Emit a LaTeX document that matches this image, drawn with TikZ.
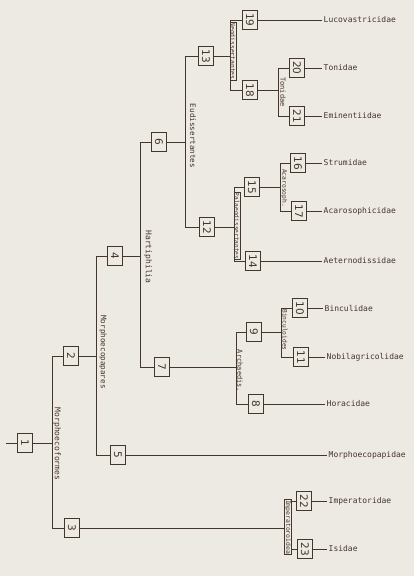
\documentclass[tikz,border=0pt]{standalone}
\usepackage{graphicx}
\usepackage{fontspec}
\setmainfont{DejaVu Sans}
\newfontfamily\monofont{DejaVu Sans Mono}
\definecolor{paper}{HTML}{EDE9E3}
\definecolor{ink}{HTML}{45362B}
\tikzset{
  num/.style={draw=ink, line width=0.8pt, fill=paper, minimum width=15pt, minimum height=19pt,
    inner sep=0pt, font=\fontsize{10.5}{10.5}\selectfont, text=ink},
  taxon/.style={anchor=west, inner sep=1.5pt, font=\monofont\fontsize{8}{8}\selectfont, text=ink},
  clade/.style={rotate=-90, inner sep=0.6pt, text=ink, font=\monofont\fontsize{#1}{#1}\selectfont},
  cladebox/.style={clade=#1, draw=ink, line width=0.4pt, fill=paper},
  edge/.style={draw=ink, line width=0.8pt},
}
\newcommand{\nb}[1]{\rotatebox{-90}{#1}}
\begin{document}
\begin{tikzpicture}[x=1pt, y=-1pt]
\useasboundingbox (0,0) rectangle (414,576);
\fill[paper] (0,0) rectangle (414,576);

% numbered nodes
\node[num] (n1)  at (25,443)  {\nb{1}};
\node[num] (n2)  at (71,356)  {\nb{2}};
\node[num] (n3)  at (72,528)  {\nb{3}};
\node[num] (n4)  at (115,256) {\nb{4}};
\node[num] (n5)  at (118,455) {\nb{5}};
\node[num] (n6)  at (159,142) {\nb{6}};
\node[num] (n7)  at (162,367) {\nb{7}};
\node[num] (n8)  at (256,404) {\nb{8}};
\node[num] (n9)  at (254,332) {\nb{9}};
\node[num] (n10) at (300,308) {\nb{10}};
\node[num] (n11) at (301,357) {\nb{11}};
\node[num] (n12) at (207,227) {\nb{12}};
\node[num] (n13) at (206,56)  {\nb{13}};
\node[num] (n14) at (253,261) {\nb{14}};
\node[num] (n15) at (252,187) {\nb{15}};
\node[num] (n16) at (298,163) {\nb{16}};
\node[num] (n17) at (299,211) {\nb{17}};
\node[num] (n18) at (250,90)  {\nb{18}};
\node[num] (n19) at (250,20)  {\nb{19}};
\node[num] (n20) at (297,68)  {\nb{20}};
\node[num] (n21) at (297,116) {\nb{21}};
\node[num] (n22) at (304,501) {\nb{22}};
\node[num] (n23) at (305,549) {\nb{23}};

% terminal taxa
\node[taxon] (t19) at (322,20)  {Lucovastricidae};
\node[taxon] (t20) at (322,68)  {Tonidae};
\node[taxon] (t21) at (322,116) {Eminentiidae};
\node[taxon] (t16) at (322,163) {Strumidae};
\node[taxon] (t17) at (322,211) {Acarosophicidae};
\node[taxon] (t14) at (322,261) {Aeternodissidae};
\node[taxon] (t10) at (323,308) {Binculidae};
\node[taxon] (t11) at (325,357) {Nobilagricolidae};
\node[taxon] (t8)  at (325,404) {Horacidae};
\node[taxon] (t5)  at (327,455) {Morphoecopapidae};
\node[taxon] (t22) at (327,501) {Imperatoridae};
\node[taxon] (t23) at (327,549) {Isidae};

% branch points
\coordinate (root) at (6,443);
\coordinate (v1a) at (52,356);  \coordinate (v1b) at (52,528);
\coordinate (v2a) at (96,256);  \coordinate (v2b) at (96,455);
\coordinate (v4a) at (140,142); \coordinate (v4b) at (140,367);
\coordinate (v6a) at (185,56);  \coordinate (v6b) at (185,227);
\coordinate (v13a) at (230,20); \coordinate (v13b) at (230,90);
\coordinate (v18a) at (278,68); \coordinate (v18b) at (278,116);
\coordinate (v12a) at (234,187);\coordinate (v12b) at (234,261);
\coordinate (v15a) at (280,163);\coordinate (v15b) at (280,211);
\coordinate (v7a) at (236,332); \coordinate (v7b) at (236,404);
\coordinate (v9a) at (281,308); \coordinate (v9b) at (281,357);
\coordinate (v3a) at (284,501); \coordinate (v3b) at (284,549);

\begin{scope}[edge]
  \draw (root) -- (n1.west);
  \draw (n1.east) -- (n1.east -| v1a);
  \draw (n2.west) -| (v1a) -- (v1b) -- (n3.west);
  \draw (n2.east) -- (n2.east -| v2a);
  \draw (n4.west) -| (v2a) -- (v2b) -- (n5.west);
  \draw (n4.east) -- (n4.east -| v4a);
  \draw (n6.west) -| (v4a) -- (v4b) -- (n7.west);
  \draw (n6.east) -- (n6.east -| v6a);
  \draw (n13.west) -| (v6a) -- (v6b) -- (n12.west);
  \draw (n13.east) -- (n13.east -| v13a);
  \draw (n19.west) -| (v13a) -- (v13b) -- (n18.west);
  \draw (n18.east) -- (n18.east -| v18a);
  \draw (n20.west) -| (v18a) -- (v18b) -- (n21.west);
  \draw (n12.east) -- (n12.east -| v12a);
  \draw (n15.west) -| (v12a) -- (v12b) -- (n14.west);
  \draw (n15.east) -- (n15.east -| v15a);
  \draw (n16.west) -| (v15a) -- (v15b) -- (n17.west);
  \draw (n7.east) -- (n7.east -| v7a);
  \draw (n9.west) -| (v7a) -- (v7b) -- (n8.west);
  \draw (n9.east) -- (n9.east -| v9a);
  \draw (n10.west) -| (v9a) -- (v9b) -- (n11.west);
  \draw (n3.east) -- (n3.east -| v3a);
  \draw (n22.west) -| (v3a) -- (v3b) -- (n23.west);
  \foreach \k in {19,20,21,16,17,14,10,11,8,5,22,23}
    \draw (n\k.east) -- (n\k.east -| t\k.west);
\end{scope}

% clade names along the branches
\node[clade=8]      (c1)  at (57,444)  {Morphoecoformes};
\node[clade=7.6]    (c2)  at (103,352) {Morphoecopapares};
\node[clade=8]      (c4)  at (148,257) {Hartiphilia};
\node[clade=7.6]    (c6)  at (193,136) {Eudissertantes};
\node[cladebox=6.3] (c13) at (233,51)  {Neodissertantes};
\node[clade=7]      (c18) at (283,92)  {Tonidae};
\node[cladebox=6.1] (c12) at (237,226) {Palaeodissertantes};
\node[clade=6.3]    (c15) at (284,188) {Acarosoph.};
\node[clade=7]      (c7)  at (240,371) {Archaedis.};
\node[clade=6.2]    (c9)  at (285,330) {Binculoides};
\node[cladebox=6.4] (c3)  at (288,527) {Imperatoroidea};
\end{tikzpicture}
\end{document}
